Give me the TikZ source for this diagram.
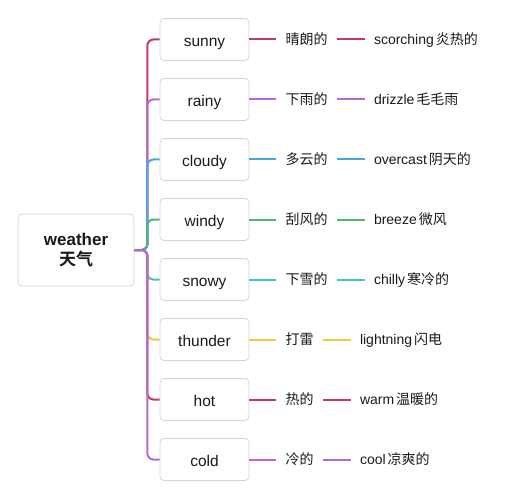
\documentclass[tikz,border=0pt]{standalone}
\usepackage{fontspec}
\setmainfont{Liberation Sans}
\newfontfamily\cjk{Noto Sans CJK SC}[BoldFont={Noto Sans CJK SC Bold}]
\usetikzlibrary{positioning}

\definecolor{wred}{HTML}{C23B5F}
\definecolor{wpurple}{HTML}{B568D6}
\definecolor{wblue}{HTML}{45A8DF}
\definecolor{wgreen}{HTML}{4CB86B}
\definecolor{wcyan}{HTML}{3CC6C8}
\definecolor{wyellow}{HTML}{F0C93A}
\definecolor{boxgray}{HTML}{D4D4D4}
\definecolor{ink}{HTML}{1A1A1A}

\tikzset{
  topic/.style={draw=boxgray, line width=0.8pt, rounded corners=4pt, fill=white,
    minimum width=89pt, minimum height=42pt, text=ink,
    text height=14.5pt, text depth=0pt, font=\fontsize{15.5}{18}\selectfont},
  leaf/.style={inner xsep=9pt, inner ysep=2pt, text=ink,
    text height=12pt, text depth=1.5pt, font=\fontsize{14}{17}\selectfont},
  branch/.style={line width=2pt, rounded corners=6pt},
}

\begin{document}
\begin{tikzpicture}[x=1pt,y=-1pt]
  \useasboundingbox (0,0) rectangle (509,500);

  % the central topic
  \node[topic, minimum width=116pt, minimum height=72pt, align=center,
    text height=, text depth=, font=\bfseries\fontsize{17}{22}\selectfont]
    (weather) at (76,250) {\raisebox{-2pt}{weather}\\{\cjk 天气}};

  % one row per kind of weather
  \foreach \name/\col/\zha/\en/\zhb [count=\i from 0] in {
      sunny/wred/晴朗的/scorching/炎热的,
      rainy/wpurple/下雨的/drizzle/毛毛雨,
      cloudy/wblue/多云的/overcast/阴天的,
      windy/wgreen/刮风的/breeze/微风,
      snowy/wcyan/下雪的/chilly/寒冷的,
      thunder/wyellow/打雷/lightning/闪电,
      hot/wred/热的/warm/温暖的,
      cold/wpurple/冷的/cool/凉爽的}
  {
    \node[topic] (\name) at (204.5,39.5+60*\i) {\name};
    \node[leaf, right=27pt of \name] (\name-a) {\cjk\zha};
    \node[leaf, right=28pt of \name-a] (\name-b) {\en\kern2pt{\cjk\zhb}};
    \draw[branch, \col] (weather.east) -- ++(13,0) |- (\name.west);
    \draw[branch, \col] (\name.east) -- (\name-a.west);
    \draw[branch, \col] (\name-a.east) -- (\name-b.west);
  }
\end{tikzpicture}
\end{document}
